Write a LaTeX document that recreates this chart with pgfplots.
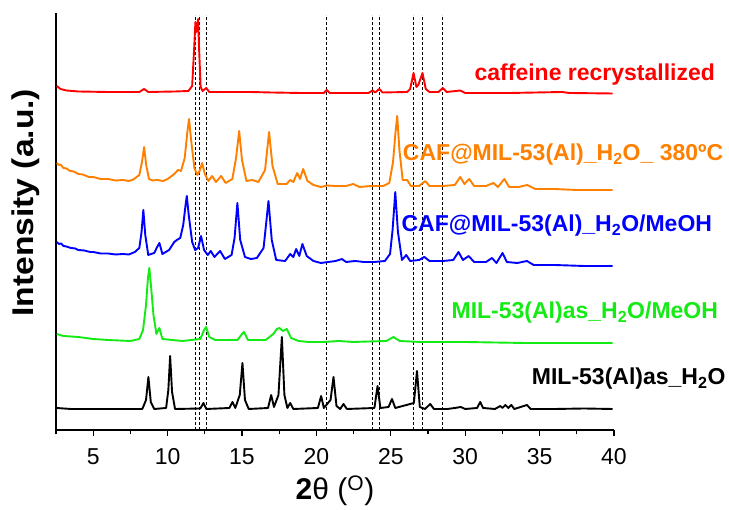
\documentclass[border=0pt]{standalone}
\usepackage{fontspec}
\setmainfont{Liberation Sans}
\usepackage{graphicx}
\usepackage{pgfplots}
\pgfplotsset{compat=1.18}
\definecolor{xrdred}{RGB}{255,0,0}
\definecolor{xrdorange}{RGB}{255,128,0}
\definecolor{xrdblue}{RGB}{0,0,255}
\definecolor{xrdgreen}{RGB}{20,235,20}
\begin{document}
\begin{tikzpicture}
\begin{axis}[
    scale only axis, width=558pt, height=417pt,
    xmin=2.5, xmax=40, ymin=0, ymax=417,
    axis lines*=left, clip=false,
    axis line style={line width=1.5pt},
    xtick={5,10,...,40}, minor xtick={2.5,7.5,...,37.5},
    ytick=\empty,
    tick align=outside,
    major tick length=6pt, minor tick length=4.5pt,
    every tick/.style={line width=1.3pt, black},
    /pgf/number format/assume math mode=true,
    xticklabel style={font=\fontsize{23}{25}\selectfont, yshift=-9pt},
    xlabel={\textbf{2}θ (\textsuperscript{O})},
    xlabel style={font=\fontsize{30}{32}\selectfont, at={(axis description cs:0.5,0)}, anchor=center, yshift=-61pt},
    every axis plot/.append style={line width=1.9pt, line join=round},
]
% reference lines
\foreach \xx in {11.89,12.12,12.61,20.70,23.77,24.22,26.53,27.13,28.50}{
  \edef\tmp{\noexpand\addplot[black, line width=1pt, dash pattern=on 3pt off 2pt] coordinates {(\xx,0) (\xx,415)};}
  \tmp
}
% caffeine recrystallized
\addplot[xrdred] coordinates {
(2.55,344) (2.8,341) (3.2,339.5) (4,338.5) (6,338) (8.1,338) (8.42,341) (8.7,338)
(10.5,338.5) (11.4,339) (11.65,344) (11.78,380) (11.87,408) (11.93,398) (12.0,404)
(12.05,411) (12.12,380) (12.22,343) (12.35,339) (12.6,342) (12.8,338) (14,338)
(15.5,338) (17,337.5) (19,337) (20.5,337) (20.7,340) (20.9,337) (23.5,337)
(23.77,339.5) (23.95,337.5) (24.22,341) (24.45,337.5) (26.1,338) (26.3,341)
(26.53,357) (26.72,343) (26.85,345) (27.13,357) (27.35,341) (27.6,338) (28.2,338)
(28.5,342) (28.75,338) (29.67,339.5) (30,337) (33,337) (36.5,338) (37,337) (39.9,336.5)
};
% CAF@MIL-53(Al)_H2O_380C
\addplot[xrdorange] coordinates {
(2.55,267) (2.7,265) (2.8,265.5) (3.0,262) (3.2,261.5) (3.45,259) (3.7,258.5) (4.0,256)
(4.3,255.5) (4.7,253) (5,253) (5.5,251) (6,251) (6.5,249.5) (7,250) (7.4,249) (7.7,250.5)
(8.1,255) (8.28,268) (8.42,283) (8.56,265) (8.75,251) (9.0,249.5) (9.3,250) (9.7,249)
(10,251) (10.45,256) (10.7,260) (10.9,259) (11.15,272) (11.32,297) (11.44,311)
(11.58,290) (11.8,262) (12.0,255) (12.15,259) (12.32,267) (12.5,256) (12.75,249)
(12.99,254) (13.25,248) (13.6,254) (13.9,247) (14.35,251) (14.6,272) (14.81,299)
(15.0,270) (15.3,249) (15.7,250) (16.1,248) (16.55,260) (16.82,298) (17.05,264)
(17.4,246) (18.0,246) (18.24,250) (18.45,248) (18.71,257) (18.9,251) (19.11,261)
(19.4,249) (19.8,245) (20.3,243) (20.72,244.5) (21.3,244) (22.0,244) (22.47,246)
(22.9,243) (23.7,244) (24.5,244) (24.9,247) (25.15,268) (25.3,295) (25.43,314)
(25.58,280) (25.8,250) (26.1,250) (26.35,244) (26.9,244) (27.31,249) (27.6,244)
(28.5,244) (29.3,245) (29.67,253) (29.95,246) (30.27,251) (30.6,244) (31.4,244)
(31.89,247) (32.2,243) (32.63,251) (32.95,243) (33.6,243) (34.17,245) (34.7,241)
(36,241) (37.5,240) (39.9,240)
};
% CAF@MIL-53(Al)_H2O/MeOH
\addplot[xrdblue] coordinates {
(2.55,188) (2.7,186) (2.85,186.5) (3.0,184) (3.2,183.5) (3.5,182) (3.8,181.5) (4,180)
(4.4,179.5) (4.8,178) (5,178) (5.5,176.5) (6,176.5) (6.5,175.5) (7,176) (7.4,175.5) (7.8,178)
(8.1,182) (8.25,198) (8.37,220) (8.5,195) (8.7,175) (9.1,177) (9.3,183) (9.45,187)
(9.65,176) (10.1,180) (10.45,188) (10.62,190) (10.85,192) (11.05,205) (11.2,224)
(11.29,234) (11.42,215) (11.65,188) (11.85,180) (12.05,182) (12.25,194) (12.45,180)
(12.7,175) (12.9,179) (13.15,173) (13.53,179) (13.85,171) (14.3,175) (14.5,192)
(14.69,227) (14.88,190) (15.2,173) (15.6,171) (16.0,172) (16.45,182) (16.78,229)
(17.0,190) (17.3,170) (17.9,169) (18.24,176) (18.45,173) (18.64,181) (18.85,174)
(19.06,186) (19.35,174) (19.8,169) (20.3,167) (20.8,168) (21.3,169) (21.71,171)
(22.0,168) (22.6,169) (23.2,168) (23.9,168) (24.6,169) (24.95,176) (25.12,200)
(25.3,238) (25.48,198) (25.75,170) (26.04,175) (26.3,169) (26.9,170) (27.25,173)
(27.6,169) (28.5,169) (29.2,170) (29.55,178) (29.85,170) (30.23,174) (30.6,168)
(31.4,168) (31.8,172) (32.1,167) (32.51,177) (32.8,168) (33.5,167) (34.15,169)
(34.6,165) (36,165) (38,164) (39.9,164)
};
% MIL-53(Al)as_H2O/MeOH
\addplot[xrdgreen] coordinates {
(2.55,96) (3,94) (4,93) (5,91) (6,90) (7.5,89) (8.1,91) (8.35,100) (8.55,125)
(8.68,152) (8.77,162) (8.88,145) (9.05,115) (9.25,96) (9.45,102) (9.65,91) (11,89)
(12.2,91) (12.45,100) (12.59,103) (12.8,93) (13.2,90) (14.7,90) (15.0,96) (15.14,98)
(15.4,90) (16.6,90) (17.1,96) (17.35,101) (17.52,102) (17.75,99) (18.01,101) (18.3,92)
(18.8,89) (19.5,88) (20.5,88) (21.5,89) (22.5,88) (23.5,88.5) (24.7,89) (25.18,93)
(25.6,89) (27,88) (30,88) (34,87) (39.9,87)
};
% MIL-53(Al)as_H2O
\addplot[black] coordinates {
(2.55,22) (3.5,21) (8.3,21) (8.55,30) (8.71,53) (8.87,28) (9.1,21) (9.9,22) (10.05,40)
(10.17,74) (10.3,38) (10.5,21) (12.2,21.5) (12.41,27) (12.6,21) (14.15,22) (14.36,28)
(14.55,22) (14.85,35) (15.03,67) (15.2,30) (15.45,21) (16.75,22) (16.96,35) (17.15,23)
(17.45,35) (17.68,93) (17.85,35) (18.05,22) (18.24,27) (18.45,21) (20.1,22) (20.32,34)
(20.5,22) (20.95,30) (21.15,53) (21.35,24) (21.6,21) (21.82,26) (22.05,21) (23.9,22)
(24.11,44) (24.3,22) (24.85,23) (25.08,31) (25.3,22) (26.55,27) (26.76,59) (26.95,23)
(27.3,21) (27.65,26) (27.9,21) (28.8,21) (29.3,22) (29.7,23) (30,21) (30.8,22)
(31.01,28) (31.2,22) (32.0,21) (32.36,24) (32.5,22) (32.7,25) (32.9,22) (33.1,25)
(33.3,21) (34.15,25) (34.4,21) (36,21) (38,21.5) (39.9,21)
};
% curve labels
\begin{scope}[every node/.style={font=\fontsize{23}{25}\selectfont\bfseries, inner sep=0pt, anchor=base east}]
\node[text=xrdred] at (axis cs:46.8,349) {caffeine recrystallized};
\node[text=xrdorange] at (axis cs:47.35,269) {CAF@MIL-53(Al)\_H\textsubscript{2}O\_ 380ºC};
\node[text=xrdblue] at (axis cs:46.6,198) {CAF@MIL-53(Al)\_H\textsubscript{2}O/MeOH};
\node[text=xrdgreen] at (axis cs:47.0,111) {MIL-53(Al)as\_H\textsubscript{2}O/MeOH};
\node[text=black] at (axis cs:47.5,45) {MIL-53(Al)as\_H\textsubscript{2}O};
\end{scope}
\node[anchor=center, inner sep=0pt, font=\fontsize{30}{32}\selectfont\bfseries]
  at ([xshift=-30pt]axis description cs:0,0.545) {\rotatebox{90}{\scalebox{1.12}[1]{Intensity (a.u.)}}};
\end{axis}
\pgfresetboundingbox
\path[use as bounding box] (-56pt,-80pt) rectangle (673pt,430pt);
\end{tikzpicture}
\end{document}
